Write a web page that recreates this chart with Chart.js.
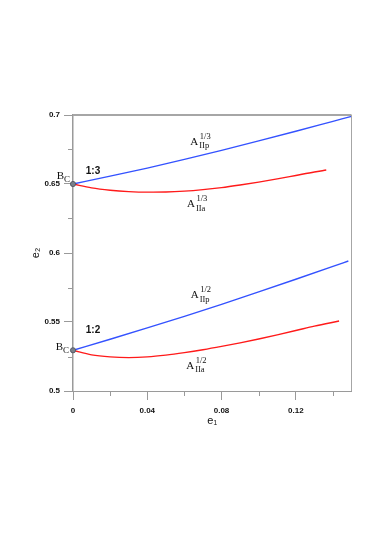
<!DOCTYPE html>
<html>
<head>
<meta charset="utf-8">
<script src="https://cdn.jsdelivr.net/npm/chart.js@4.4.1/dist/chart.umd.min.js"></script>
<style>
  html, body { margin: 0; padding: 0; background: #fff; }
  canvas { display: block; }
</style>
</head>
<body>
<canvas id="chart" width="382" height="539"></canvas>
<script>
// curve A_IIp 1/3 (blue, upper family)
const e1P13 = [0, 0.02, 0.04, 0.06, 0.08, 0.10, 0.12, 0.14, 0.15];
const e2P13 = [0.65, 0.6557, 0.6615, 0.6678, 0.6744, 0.6812, 0.6882, 0.6954, 0.699];
// curve A_IIa 1/3 (red, upper family)
const e1A13 = [0, 0.01, 0.02, 0.03, 0.04, 0.05, 0.06, 0.07, 0.08, 0.09, 0.10, 0.11, 0.12, 0.13, 0.1364];
const e2A13 = [0.65, 0.6472, 0.6455, 0.6445, 0.6441, 0.6442, 0.6448, 0.6459, 0.6474, 0.6493, 0.6514, 0.6537, 0.6562, 0.6587, 0.6601];
// curve A_IIp 1/2 (blue, lower family)
const e1P12 = [0, 0.02, 0.04, 0.06, 0.08, 0.10, 0.12, 0.14, 0.1483];
const e2P12 = [0.5295, 0.5375, 0.5457, 0.5541, 0.5628, 0.5718, 0.581, 0.5903, 0.5942];
// curve A_IIa 1/2 (red, lower family)
const e1A12 = [0, 0.01, 0.02, 0.03, 0.04, 0.05, 0.06, 0.07, 0.08, 0.09, 0.10, 0.11, 0.12, 0.13, 0.1433];
const e2A12 = [0.5295, 0.5262, 0.5247, 0.5242, 0.5247, 0.526, 0.5278, 0.5299, 0.5323, 0.5349, 0.5377, 0.5407, 0.5438, 0.547, 0.5507];
// bifurcation points B_C
const e1Bc = [0, 0];
const e2Bc = [0.65, 0.5295];

// ticks
const xMajor = [0, 0.04, 0.08, 0.12];
const xMinor = [0.02, 0.06, 0.10, 0.14];
const yMajor = [0.5, 0.55, 0.6, 0.65, 0.7];
const yMinor = [0.525, 0.575, 0.625, 0.675];
const xTickLabels = ["0", "0.04", "0.08", "0.12"];
const yTickLabels = ["0.5", "0.55", "0.6", "0.65", "0.7"];

// text annotations, anchored in data units
const ratioText = ["1:3", "1:2"];
const ratioE1 = [0.0069, 0.0069];
const ratioE2 = [0.6572, 0.5418];
const curveMain = ["A", "A", "A", "A"];
const curveSup = ["1/3", "1/3", "1/2", "1/2"];
const curveSub = ["IIp", "IIa", "IIp", "IIa"];
const curveE1 = [0.0632, 0.0614, 0.0634, 0.061];
const curveE2 = [0.6783, 0.6333, 0.5672, 0.5162];
const bcE1 = [-0.0088, -0.0093];
const bcE2 = [0.6533, 0.5297];

const pts = (xs, ys) => xs.map((x, i) => ({ x: x, y: ys[i] }));

const BLUE = "#3452ff";
const RED = "#ff1a1a";
const AXIS = "#9a9a9a";

const line = (data, color) => ({
  data: data,
  showLine: true,
  borderColor: color,
  borderWidth: 1.4,
  pointRadius: 0,
  cubicInterpolationMode: "monotone",
  fill: false,
});

const extras = {
  id: "extras",
  afterDraw(chart) {
    const ctx = chart.ctx;
    const xs = chart.scales.x;
    const ys = chart.scales.y;
    const a = chart.chartArea;
    ctx.save();

    // minor ticks
    ctx.strokeStyle = AXIS;
    ctx.lineWidth = 1;
    ctx.beginPath();
    xMinor.forEach((v) => {
      const px = Math.round(xs.getPixelForValue(v)) + 0.5;
      ctx.moveTo(px, a.bottom);
      ctx.lineTo(px, a.bottom + 5);
    });
    yMinor.forEach((v) => {
      const py = Math.round(ys.getPixelForValue(v)) + 0.5;
      ctx.moveTo(a.left - 5, py);
      ctx.lineTo(a.left, py);
    });
    ctx.stroke();

    // frame: top and right
    ctx.strokeStyle = "#a6a6a6";
    ctx.lineWidth = 2;
    ctx.beginPath();
    ctx.moveTo(a.left, a.top);
    ctx.lineTo(a.right, a.top);
    ctx.stroke();
    ctx.lineWidth = 1;
    ctx.beginPath();
    ctx.moveTo(a.right, a.top);
    ctx.lineTo(a.right, a.bottom);
    ctx.stroke();

    ctx.fillStyle = "#111";
    ctx.textBaseline = "alphabetic";
    ctx.textAlign = "left";

    // 1:3, 1:2
    ctx.font = "bold 10px 'Liberation Sans'";
    ratioText.forEach((t, i) => {
      ctx.fillText(t, xs.getPixelForValue(ratioE1[i]), ys.getPixelForValue(ratioE2[i]));
    });

    // B_C
    bcE1.forEach((v, i) => {
      const px = xs.getPixelForValue(v);
      const py = ys.getPixelForValue(bcE2[i]);
      ctx.font = "11px 'Liberation Serif'";
      ctx.fillText("B", px, py);
      const w = ctx.measureText("B").width;
      ctx.font = "9px 'Liberation Serif'";
      ctx.fillText("C", px + w, py + 3);
    });

    // A labels
    curveMain.forEach((t, i) => {
      const px = xs.getPixelForValue(curveE1[i]);
      const py = ys.getPixelForValue(curveE2[i]);
      ctx.font = "11px 'Liberation Serif'";
      ctx.fillText(t, px, py);
      const w = ctx.measureText(t).width;
      ctx.font = "8.5px 'Liberation Serif'";
      ctx.fillText(curveSup[i], px + w + 1.5, py - 6);
      ctx.fillText(curveSub[i], px + w + 1, py + 3.5);
    });

    ctx.restore();
  },
};

new Chart(document.getElementById("chart"), {
  type: "scatter",
  data: {
    datasets: [
      {
        data: pts(e1Bc, e2Bc),
        pointRadius: 2.6,
        pointBackgroundColor: "#7a808a",
        pointBorderColor: "#4a505a",
        pointBorderWidth: 0.8,
        showLine: false,
        clip: false,
      },
      line(pts(e1P13, e2P13), BLUE),
      line(pts(e1A13, e2A13), RED),
      line(pts(e1P12, e2P12), BLUE),
      line(pts(e1A12, e2A12), RED),
    ],
  },
  plugins: [extras],
  options: {
    responsive: false,
    animation: false,
    devicePixelRatio: 1,
    layout: { padding: { left: 0, top: 115, right: 30.5, bottom: 108 } },
    plugins: { legend: { display: false }, tooltip: { enabled: false } },
    scales: {
      x: {
        type: "linear",
        min: 0,
        max: 0.15,
        afterBuildTicks: (sc) => { sc.ticks = xMajor.map((v) => ({ value: v })); },
        afterFit: (sc) => { sc.height = 40; },
        ticks: {
          autoSkip: false,
          maxRotation: 0,
          padding: 6,
          color: "#111",
          font: { family: "'Liberation Sans'", size: 8, weight: "bold" },
          callback: (v, i) => xTickLabels[i],
        },
        grid: { drawOnChartArea: false, drawTicks: true, tickLength: 9, color: AXIS, lineWidth: 1 },
        border: { display: true, color: AXIS, width: 1 },
        title: {
          display: true,
          text: "e₁",
          color: "#111",
          font: { family: "'Liberation Sans'", size: 11 },
          padding: { top: 0, bottom: 3 },
        },
      },
      y: {
        type: "linear",
        min: 0.5,
        max: 0.7,
        afterBuildTicks: (sc) => { sc.ticks = yMajor.map((v) => ({ value: v })); },
        afterFit: (sc) => { sc.width = 73; },
        ticks: {
          autoSkip: false,
          padding: 4,
          color: "#111",
          font: { family: "'Liberation Sans'", size: 8, weight: "bold" },
          callback: (v, i) => yTickLabels[i],
        },
        grid: { drawOnChartArea: false, drawTicks: true, tickLength: 9, color: AXIS, lineWidth: 1 },
        border: { display: true, color: AXIS, width: 1.5 },
        title: {
          display: true,
          text: "e₂",
          color: "#111",
          font: { family: "'Liberation Sans'", size: 11 },
          padding: { top: 29, bottom: 0 },
        },
      },
    },
  },
});
</script>
</body>
</html>
